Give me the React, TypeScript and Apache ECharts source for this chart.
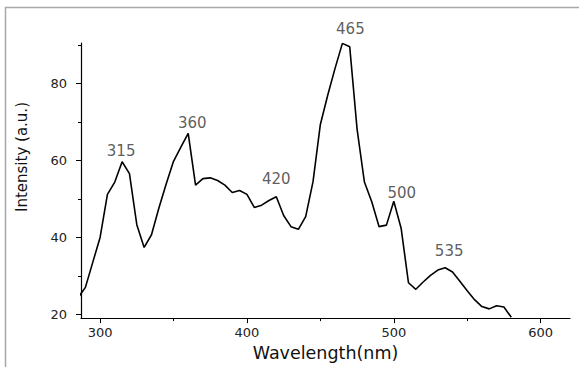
import React, { useEffect, useRef } from "react";
import * as echarts from "echarts";

const wavelengths = [
  285, 290, 295, 300, 305, 310, 315, 320, 325, 330, 335, 340, 345, 350, 355, 360,
  365, 370, 375, 380, 385, 390, 395, 400, 405, 410, 415, 420, 425, 430, 435, 440,
  445, 450, 455, 460, 465, 470, 475, 480, 485, 490, 495, 500, 505, 510, 515, 520,
  525, 530, 535, 540, 545, 550, 555, 560, 565, 570, 575, 580,
];
const intensity = [
  24.3, 27.0, 33.5, 40.0, 51.2, 54.4, 59.7, 56.6, 43.3, 37.4, 40.7, 47.6, 53.9, 59.8, 63.5, 67.1,
  53.6, 55.3, 55.5, 54.8, 53.6, 51.7, 52.2, 51.2, 47.8, 48.4, 49.6, 50.6, 45.7, 42.8, 42.1, 45.4,
  54.5, 69.4, 77.0, 84.0, 90.5, 89.6, 68.2, 54.4, 49.3, 42.8, 43.2, 49.4, 42.4, 28.2, 26.5, 28.4,
  30.1, 31.5, 32.1, 31.0, 28.6, 26.1, 23.8, 22.0, 21.4, 22.2, 21.9, 19.2,
];
const peakWavelengths = [315, 360, 420, 465, 500, 535];
const peakLabels = ["315", "360", "420", "465", "500", "535"];

const xMajorTicks = [300, 400, 500, 600];
const xMinorTicks = [350, 450, 550];
const yMajorTicks = [20, 40, 60, 80];
const yMinorTicks = [30, 50, 70, 90];

// label nudges (pixels) for the peak annotations
const peakLabelOffsets: number[][] = [
  [-1, -3],
  [4, -3],
  [0, -10],
  [8, -7],
  [8, -1],
  [4, -9],
];

const FONT = "DejaVu Sans";

export default function App() {
  const ref = useRef<HTMLDivElement>(null);
  useEffect(() => {
    if (!ref.current) return;
    const chart = echarts.init(ref.current, null, { renderer: "svg" });
    const lineData = wavelengths.map((w, i) => [w, intensity[i]]);
    const peakData = peakWavelengths.map((w, i) => ({
      value: [w, intensity[wavelengths.indexOf(w)]],
      label: { offset: peakLabelOffsets[i] },
    }));
    const xBase = { type: "value", min: 287, max: 620, position: "bottom", splitLine: { show: false } };
    const yBase = { type: "value", min: 19, max: 90.6, position: "left", splitLine: { show: false } };
    chart.setOption({
      animation: false,
      backgroundColor: "#ffffff",
      grid: { left: 81, right: 9, top: 43, bottom: 46.5, containLabel: false },
      xAxis: [
        {
          ...xBase,
          axisLine: { show: true, onZero: false, lineStyle: { color: "#000", width: 1.2 } },
          axisTick: { show: true, customValues: xMajorTicks, length: 5, inside: false, lineStyle: { color: "#000" } },
          axisLabel: { show: true, customValues: xMajorTicks, margin: 8, fontFamily: FONT, fontSize: 13, color: "#222" },
          name: "Wavelength(nm)",
          nameLocation: "middle",
          nameGap: 22,
          nameTextStyle: { fontFamily: FONT, fontSize: 17.5, color: "#111" },
        },
        {
          ...xBase,
          axisLine: { show: false, onZero: false },
          axisTick: { show: true, customValues: xMinorTicks, length: 3, lineStyle: { color: "#000" } },
          axisLabel: { show: false },
        },
      ],
      yAxis: [
        {
          ...yBase,
          axisLine: { show: true, onZero: false, lineStyle: { color: "#000", width: 1.2 } },
          axisTick: { show: true, customValues: yMajorTicks, length: 5, lineStyle: { color: "#000" } },
          axisLabel: { show: true, customValues: yMajorTicks, margin: 14, fontFamily: FONT, fontSize: 13, color: "#222" },
        },
        {
          ...yBase,
          axisLine: { show: false, onZero: false },
          axisTick: { show: true, customValues: yMinorTicks, length: 3, lineStyle: { color: "#000" } },
          axisLabel: { show: false },
        },
      ],
      graphic: [
        {
          type: "rect",
          silent: true,
          shape: { x: 5.5, y: 7.5, width: 800, height: 600 },
          style: { fill: "none", stroke: "#a8a8a8", lineWidth: 1.5 },
        },
        {
          type: "text",
          x: 22,
          y: 157,
          rotation: Math.PI / 2,
          style: {
            text: "Intensity (a.u.)",
            fontFamily: FONT,
            fontSize: 15,
            fill: "#111",
            align: "center",
            verticalAlign: "middle",
          },
        },
      ],
      series: [
        {
          type: "line",
          xAxisIndex: 0,
          yAxisIndex: 0,
          data: lineData,
          showSymbol: false,
          symbol: "none",
          clip: true,
          lineStyle: { color: "#000", width: 1.6 },
          z: 3,
        },
        {
          type: "scatter",
          xAxisIndex: 0,
          yAxisIndex: 0,
          symbolSize: 0,
          data: peakData,
          label: {
            show: true,
            position: "top",
            distance: 0,
            fontFamily: FONT,
            fontSize: 15,
            color: "#333",
            formatter: (p: any) => peakLabels[p.dataIndex],
          },
          z: 4,
        },
      ],
    });
    return () => chart.dispose();
  }, []);
  return (
    <div
      ref={ref}
      style={{ position: "fixed", left: 0, top: 0, width: 579, height: 367, overflow: "hidden" }}
    />
  );
}
